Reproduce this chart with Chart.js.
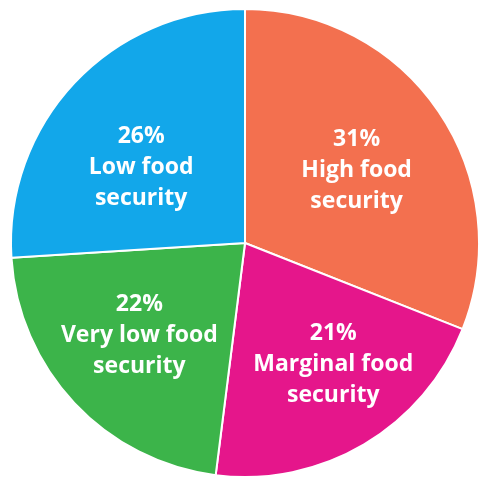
<!DOCTYPE html>
<html>
<head>
<meta charset="utf-8">
<script src="https://cdn.jsdelivr.net/npm/chart.js@4"></script>
<style>
  html, body { margin: 0; padding: 0; background: #fff; overflow: hidden; }
  #wrap { width: 480px; height: 480px; }
</style>
</head>
<body>
<div id="wrap"><canvas id="pieChart" width="480" height="480"></canvas></div>
<script>
// Food security categories, clockwise from 12 o'clock
const categories = ['High food security', 'Marginal food security', 'Very low food security', 'Low food security'];
const shares = [31, 21, 22, 26];
const labelLines = [
  ['31%', 'High food', 'security'],
  ['21%', 'Marginal food', 'security'],
  ['22%', 'Very low food', 'security'],
  ['26%', 'Low food', 'security']
];
const sliceColors = ['#F3704F', '#E5168B', '#3CB44A', '#12A7EA'];
// where the text block sits: share of radius, and turn from mid-angle (degrees)
const labelRadius = [0.57, 0.64, 0.6, 0.55];
const labelTurn = [1, -5.5, 2, -7];

// draws the white text block inside each slice
const sliceLabels = {
  id: 'sliceLabels',
  afterDatasetsDraw(chart) {
    const ctx = chart.ctx;
    const meta = chart.getDatasetMeta(0);
    ctx.save();
    ctx.fillStyle = '#ffffff';
    ctx.font = 'bold 23px "Open Sans", Lato, sans-serif';
    ctx.textAlign = 'center';
    ctx.textBaseline = 'middle';
    meta.data.forEach((arc, i) => {
      const p = arc.getProps(['x', 'y', 'startAngle', 'endAngle', 'outerRadius'], true);
      const mid = (p.startAngle + p.endAngle) / 2 + labelTurn[i] * Math.PI / 180;
      const r = p.outerRadius * labelRadius[i];
      const cx = p.x + Math.cos(mid) * r;
      const cy = p.y + Math.sin(mid) * r;
      const lines = labelLines[i];
      const lh = 31;
      lines.forEach((t, j) => {
        ctx.fillText(t, cx, cy + (j - (lines.length - 1) / 2) * lh);
      });
    });
    ctx.restore();
  }
};

new Chart(document.getElementById('pieChart').getContext('2d'), {
  type: 'pie',
  data: {
    labels: categories,
    datasets: [{
      data: shares,
      backgroundColor: sliceColors,
      borderColor: '#ffffff',
      borderWidth: 2
    }]
  },
  options: {
    responsive: false,
    animation: false,
    layout: { padding: { left: 10, right: 0, top: 8, bottom: 2 } },
    plugins: {
      legend: { display: false },
      tooltip: { enabled: false }
    }
  },
  plugins: [sliceLabels]
});
</script>
</body>
</html>
